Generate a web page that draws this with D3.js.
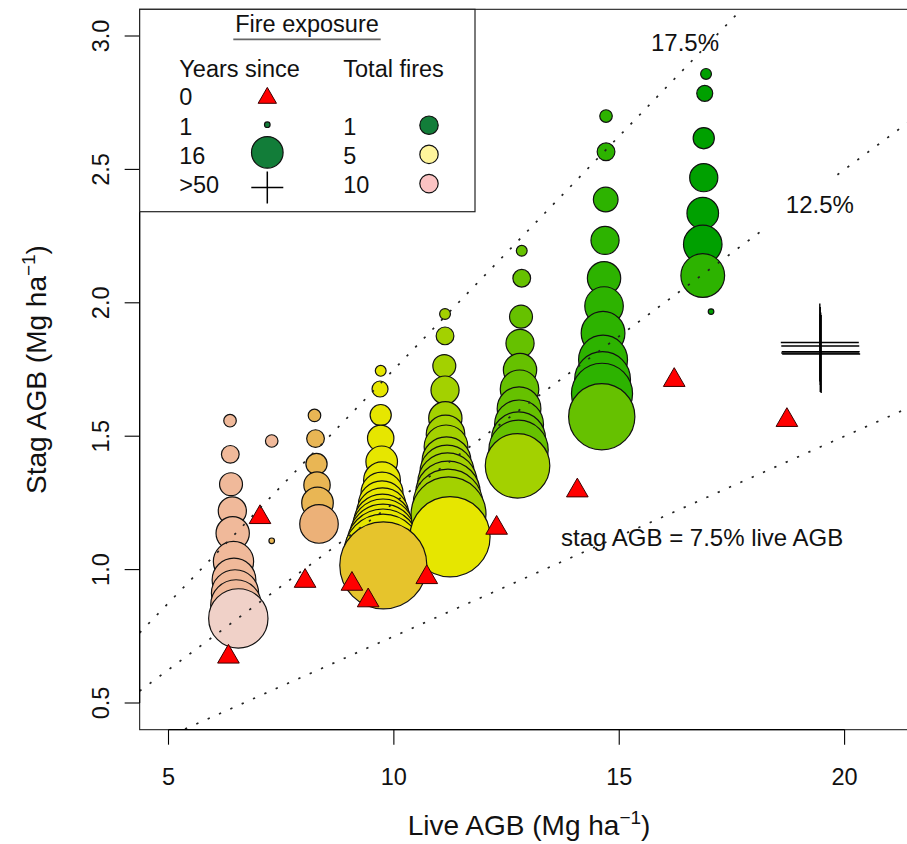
<!DOCTYPE html>
<html>
<head>
<meta charset="utf-8">
<script src="https://cdn.jsdelivr.net/npm/d3@7"></script>
<style>
  html, body { margin: 0; padding: 0; background: #fff; }
  svg { display: block; font-family: "Liberation Sans", Arial, Helvetica, sans-serif; }
</style>
</head>
<body>
<svg id="chart" width="907" height="844"></svg>
<script>
// ---- Simulated stands: live vs standing-dead (stag) above-ground biomass ----
const liveAGB = [
  6.365, 6.371, 6.387, 6.416, 6.424, 6.442, 6.453, 6.476, 6.498, 6.549, 7.290, 7.290,
  8.239, 8.262, 8.284, 8.295, 8.306, 8.339,
  9.708, 9.693, 9.708, 9.708, 9.730, 9.737, 9.737, 9.737, 9.748, 9.748, 9.759, 9.759, 9.759, 9.759, 9.766,
  11.135, 11.135, 11.119, 11.135, 11.142, 11.146, 11.157, 11.168, 11.179, 11.190, 11.201, 11.201, 11.213, 11.246,
  12.837, 12.837, 12.821, 12.799, 12.799, 12.788, 12.777, 12.777, 12.766, 12.766, 12.744,
  14.707, 14.707, 14.700, 14.685, 14.663, 14.663, 14.641, 14.641, 14.630, 14.618, 14.612,
  16.926, 16.897, 16.875, 16.875, 16.853, 16.853, 16.853, 17.037
];
const stagAGB = [
  1.558, 1.432, 1.320, 1.220, 1.136, 1.030, 0.961, 0.911, 0.867, 0.817, 1.482, 1.108,
  1.578, 1.491, 1.396, 1.317, 1.250, 1.171,
  1.745, 1.677, 1.579, 1.492, 1.404, 1.335, 1.287, 1.244, 1.208, 1.175, 1.147, 1.118, 1.090, 1.061, 1.016,
  1.958, 1.876, 1.763, 1.673, 1.567, 1.507, 1.460, 1.406, 1.365, 1.326, 1.286, 1.246, 1.207, 1.123,
  2.195, 2.092, 1.948, 1.848, 1.748, 1.676, 1.603, 1.544, 1.490, 1.449, 1.389,
  2.700, 2.566, 2.387, 2.234, 2.092, 1.988, 1.886, 1.787, 1.712, 1.659, 1.573,
  2.858, 2.785, 2.617, 2.469, 2.336, 2.219, 2.102, 1.967
];
const yearsSince = [
  5, 8, 11, 14, 17, 21, 23, 25, 27, 32, 5, 1,
  5, 8, 10, 13, 16, 20,
  4, 7, 10, 13, 16, 19, 22, 25, 28, 31, 34, 37, 40, 43, 48,
  4, 8, 11, 14, 17, 20, 23, 26, 29, 32, 35, 38, 41, 44,
  4, 8, 11, 14, 17, 20, 23, 26, 29, 32, 35,
  5, 8, 12, 14, 17, 20, 23, 26, 30, 33, 36,
  4, 7, 10, 14, 16, 20, 23, 1
];
const totalFires = [
  9, 9, 9, 9, 9, 9, 9, 9, 9, 10, 9, 7,
  7, 7, 7, 7, 7, 8,
  5, 5, 5, 5, 5, 5, 5, 5, 5, 5, 5, 5, 5, 5, 6,
  4, 4, 4, 4, 4, 4, 4, 4, 4, 4, 4, 4, 4, 5,
  3, 3, 3, 3, 3, 3, 3, 3, 3, 3, 4,
  2, 2, 2, 2, 2, 2, 2, 2, 2, 2, 3,
  1, 1, 1, 1, 1, 1, 2, 1
];

// Stands burnt this year (0 years since fire)
const burntLive = [6.33, 7.03, 8.03, 9.07, 9.43, 10.73, 12.28, 14.07, 16.22, 18.72];
const burntStag = [0.673, 1.196, 0.957, 0.946, 0.884, 0.971, 1.156, 1.296, 1.710, 1.560];

// Stands unburnt for more than 50 years
const oldLive = [19.45, 19.46, 19.47, 19.46, 19.48];
const oldStag = [1.851, 1.838, 1.817, 1.812, 1.808];

// Colour ramp for the number of fires
const fireLevels = [1, 2, 3, 4, 5, 6, 7, 8, 9, 10];
const fireColours = ["#00a000", "#2db300", "#66c100", "#a3d100", "#e6e600",
                     "#e6c42c", "#e9b654", "#ecb178", "#f0b99a", "#f0d1c8"];

// Reference ratios stag/live
const ratioSlopes = [0.175, 0.125, 0.075];
const ratioLabels = ["17.5%", "12.5%", "stag AGB = 7.5% live AGB"];
const ratioLabelLive = [16.46, 19.45, 16.84];
const ratioLabelStag = [2.976, 2.368, 1.122];
const ratioLabelMasked = [false, true, false];

// Axis ticks
const xTicks = [5, 10, 15, 20];
const yTicks = [0.5, 1.0, 1.5, 2.0, 2.5, 3.0];

// Legend entries
const legendYears = ["0", "1", "16", ">50"];
const legendYearValues = [0, 1, 16, 51];
const legendFires = ["1", "5", "10"];
const legendFireColours = ["#127d39", "#fff59c", "#fbc3c3"];

// ---- Drawing ----
const svg = d3.select("#chart");
const FONT = 23.5;

const x = d3.scaleLinear().domain([5, 20]).range([168.5, 844.6]);
const y = d3.scaleLinear().domain([0.5, 3]).range([703, 36]);
const xUsr = [4.36, 21.64];
const yUsr = [0.4, 3.1];
const pLeft = x(xUsr[0]), pRight = x(xUsr[1]);
const pTop = y(yUsr[1]), pBottom = y(yUsr[0]);

const rScale = d3.scaleLinear().domain([1, 16]).range([2.8, 15.8]);
const fireColour = d3.scaleLinear().domain(fireLevels).range(fireColours).interpolate(d3.interpolateRgb);

svg.append("defs").append("clipPath").attr("id", "plotClip")
  .append("rect").attr("x", pLeft).attr("y", pTop)
  .attr("width", pRight - pLeft).attr("height", pBottom - pTop);

// frame
svg.append("rect").attr("x", pLeft).attr("y", pTop)
  .attr("width", pRight - pLeft).attr("height", pBottom - pTop)
  .attr("fill", "none").attr("stroke", "#222").attr("stroke-width", 1.1);

const plot = svg.append("g").attr("clip-path", "url(#plotClip)");

// points: smaller (younger) circles first so older, larger ones sit on top
const pts = liveAGB.map((v, i) => ({ live: v, stag: stagAGB[i], yrs: yearsSince[i], fires: totalFires[i] }))
  .sort((a, b) => a.yrs - b.yrs);

plot.append("g").selectAll("circle").data(pts).join("circle")
  .attr("cx", d => x(d.live)).attr("cy", d => y(d.stag))
  .attr("r", d => rScale(d.yrs))
  .attr("fill", d => fireColour(d.fires))
  .attr("stroke", "#111").attr("stroke-width", 1.2);

const tri = d3.symbol().type(d3.symbolTriangle).size(203);
plot.append("g").selectAll("path").data(burntLive).join("path")
  .attr("transform", (d, i) => `translate(${x(d)},${y(burntStag[i])})`)
  .attr("d", tri).attr("fill", "#ff0000").attr("stroke", "#3a0000").attr("stroke-width", 1);

plot.append("g").selectAll("path").data(oldLive).join("path")
  .attr("transform", (d, i) => `translate(${x(d)},${y(oldStag[i])})`)
  .attr("d", "M-39,0H39M0,-39V39")
  .attr("stroke", "#000").attr("stroke-width", 1.4).attr("fill", "none");

// reference ratio lines
plot.append("g").selectAll("line").data(ratioSlopes).join("line")
  .attr("x1", x(xUsr[0])).attr("y1", s => y(s * xUsr[0]))
  .attr("x2", x(xUsr[1])).attr("y2", s => y(s * xUsr[1]))
  .attr("stroke", "#222").attr("stroke-width", 1.7)
  .attr("stroke-dasharray", "2.3 10.1");

// ratio labels; the 12.5% one sits on a white patch that breaks its line
const labels = plot.append("g").selectAll("g").data(ratioLabels).join("g")
  .attr("transform", (d, i) => `translate(${x(ratioLabelLive[i])},${y(ratioLabelStag[i])})`);
labels.filter((d, i) => ratioLabelMasked[i]).append("rect")
  .attr("x", -54).attr("y", -25).attr("width", 108).attr("height", 50).attr("fill", "#fff");
labels.append("text")
  .attr("dy", "0.36em").attr("text-anchor", "middle")
  .style("font-size", "24px").attr("fill", "#111").text(d => d);

// axes
const axisX = svg.append("g");
axisX.append("line").attr("x1", x(xTicks[0])).attr("x2", x(xTicks[xTicks.length - 1]))
  .attr("y1", pBottom).attr("y2", pBottom).attr("stroke", "#000").attr("stroke-width", 1.2);
axisX.selectAll("line.tick").data(xTicks).join("line").attr("class", "tick")
  .attr("x1", d => x(d)).attr("x2", d => x(d)).attr("y1", pBottom).attr("y2", pBottom + 15)
  .attr("stroke", "#000").attr("stroke-width", 1.1);
axisX.selectAll("text").data(xTicks).join("text")
  .attr("x", d => x(d)).attr("y", 785).attr("text-anchor", "middle")
  .style("font-size", FONT + "px").attr("fill", "#111").text(d => d);

const axisY = svg.append("g");
axisY.append("line").attr("y1", y(yTicks[0])).attr("y2", y(yTicks[yTicks.length - 1]))
  .attr("x1", pLeft).attr("x2", pLeft).attr("stroke", "#000").attr("stroke-width", 1.2);
axisY.selectAll("line.tick").data(yTicks).join("line").attr("class", "tick")
  .attr("y1", d => y(d)).attr("y2", d => y(d)).attr("x1", pLeft).attr("x2", pLeft - 15)
  .attr("stroke", "#000").attr("stroke-width", 1.1);
axisY.selectAll("text").data(yTicks).join("text")
  .attr("transform", d => `translate(108.5,${y(d)}) rotate(-90)`)
  .attr("text-anchor", "middle")
  .style("font-size", FONT + "px").attr("fill", "#111").text(d => d3.format(".1f")(d));

// axis titles with superscript unit
function unitTitle(sel, label) {
  sel.append("tspan").text(label + " (Mg ha");
  sel.append("tspan").attr("dy", -11).style("font-size", "19px").text("\u22121");
  sel.append("tspan").attr("dy", 11).text(")");
}
const xTitle = svg.append("text").attr("x", (pLeft + pRight) / 2).attr("y", 835)
  .attr("text-anchor", "middle").style("font-size", "28px").attr("fill", "#111");
unitTitle(xTitle, "Live AGB");
const yTitle = svg.append("text")
  .attr("transform", `translate(46,${(pTop + pBottom) / 2}) rotate(-90)`)
  .attr("text-anchor", "middle").style("font-size", "28px").attr("fill", "#111");
unitTitle(yTitle, "Stag AGB");

// legend
const lg = svg.append("g");
lg.append("rect").attr("x", pLeft).attr("y", pTop).attr("width", 475 - pLeft).attr("height", 211.7 - pTop)
  .attr("fill", "#fff").attr("stroke", "#222").attr("stroke-width", 1.2);
lg.append("text").attr("x", 307).attr("y", 32.3).attr("text-anchor", "middle")
  .style("font-size", FONT + "px").attr("fill", "#111").text("Fire exposure");
lg.append("line").attr("x1", 233.3).attr("x2", 380.7).attr("y1", 39.3).attr("y2", 39.3)
  .attr("stroke", "#666").attr("stroke-width", 1.8);
lg.append("text").attr("x", 179.3).attr("y", 77.3).style("font-size", FONT + "px").attr("fill", "#111").text("Years since");
lg.append("text").attr("x", 343.3).attr("y", 77.3).style("font-size", FONT + "px").attr("fill", "#111").text("Total fires");

const rowY = i => 97 + 29.2 * i;
const symX = 267.3, fireX = 429;
lg.selectAll("text.yrs").data(legendYears).join("text").attr("class", "yrs")
  .attr("x", 179.3).attr("y", (d, i) => rowY(i) + 8.3)
  .style("font-size", FONT + "px").attr("fill", "#111").text(d => d);

lg.append("path").attr("transform", `translate(${symX},${rowY(0) + 1})`)
  .attr("d", d3.symbol().type(d3.symbolTriangle).size(146))
  .attr("fill", "#ff0000").attr("stroke", "#3a0000").attr("stroke-width", 1);
lg.selectAll("circle.yrs").data(legendYearValues.slice(1, 3)).join("circle").attr("class", "yrs")
  .attr("cx", symX).attr("cy", (d, i) => rowY(i + 1) - (i === 1 ? 3 : 1.5))
  .attr("r", d => rScale(d)).attr("fill", legendFireColours[0])
  .attr("stroke", "#111").attr("stroke-width", 1.2);
lg.append("path").attr("transform", `translate(${symX},${rowY(3) + 3})`)
  .attr("d", "M-16,0H16M0,-16V16").attr("stroke", "#000").attr("stroke-width", 1.5);

lg.selectAll("text.fires").data(legendFires).join("text").attr("class", "fires")
  .attr("x", 343.3).attr("y", (d, i) => rowY(i + 1) + 8.3)
  .style("font-size", FONT + "px").attr("fill", "#111").text(d => d);
lg.selectAll("circle.fires").data(legendFireColours).join("circle").attr("class", "fires")
  .attr("cx", fireX).attr("cy", (d, i) => rowY(i + 1) - 1)
  .attr("r", 9.2).attr("fill", d => d).attr("stroke", "#111").attr("stroke-width", 1.2);
</script>
</body>
</html>
